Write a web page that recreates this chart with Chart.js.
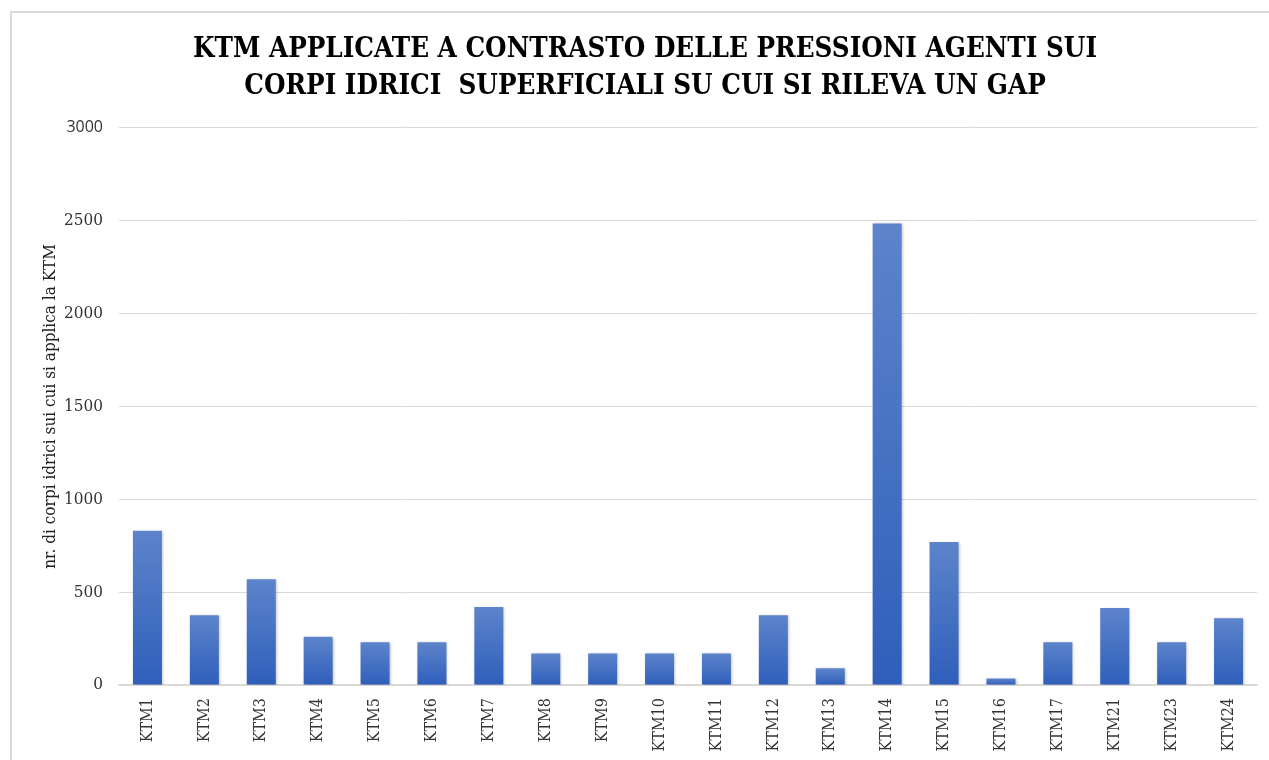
<!DOCTYPE html>
<html>
<head>
<meta charset="utf-8">
<title>KTM applicate</title>
<script src="https://cdn.jsdelivr.net/npm/chart.js@4.4.1/dist/chart.umd.min.js"></script>
<style>
    html, body { margin: 0; padding: 0; background: #fff; }
    #wrap { position: relative; width: 1269px; height: 760px; overflow: hidden; }
    #frame {
        position: absolute; left: 10px; top: 11px; width: 1300px; height: 800px;
        border: 2px solid #d9d9d9; box-sizing: border-box;
    }
    #bar { position: absolute; left: 0; top: 0; }
</style>
</head>
<body>
<div id="wrap">
    <div id="frame"></div>
    <canvas id="bar" width="1269" height="760"></canvas>
</div>
<script>
var categorie = ['KTM1', 'KTM2', 'KTM3', 'KTM4', 'KTM5', 'KTM6', 'KTM7', 'KTM8', 'KTM9', 'KTM10',
    'KTM11', 'KTM12', 'KTM13', 'KTM14', 'KTM15', 'KTM16', 'KTM17', 'KTM21', 'KTM23', 'KTM24'];
var nCorpi = [830, 375, 570, 260, 230, 230, 420, 170, 170, 170,
    170, 375, 90, 2485, 770, 35, 230, 415, 230, 360];
var yTicks = [0, 500, 1000, 1500, 2000, 2500, 3000];
var titolo = ['KTM APPLICATE A CONTRASTO DELLE PRESSIONI AGENTI SUI', 'CORPI IDRICI  SUPERFICIALI SU CUI SI RILEVA UN GAP'];
var titoloAsse = 'nr. di corpi idrici sui cui si applica la KTM';

var serif = '"DejaVu Serif Condensed", "DejaVu Serif", serif';

// gradiente per ogni barra: chiaro in alto, scuro in basso
function barColor(c) {
    var chart = c.chart;
    var y = chart.scales.y;
    if (!y || !chart.chartArea || c.parsed === undefined) {
        return '#4472c4';
    }
    var top = y.getPixelForValue(c.parsed.y);
    var base = y.getPixelForValue(0);
    if (!isFinite(top) || !isFinite(base) || base - top < 1) {
        return '#4472c4';
    }
    var g = chart.ctx.createLinearGradient(0, top, 0, base);
    g.addColorStop(0, '#5d84cb');
    g.addColorStop(1, '#2f5fbb');
    return g;
}

var shadowPlugin = {
    id: 'shadow',
    beforeDatasetsDraw: function (chart) {
        var ctx = chart.ctx;
        ctx.save();
        ctx.shadowColor = 'rgba(0,0,0,0.28)';
        ctx.shadowBlur = 3;
        ctx.shadowOffsetX = 1;
        ctx.shadowOffsetY = 1;
    },
    afterDatasetsDraw: function (chart) {
        chart.ctx.restore();
    }
};

var ctx = document.getElementById('bar');

var barGraph = new Chart(ctx, {
    type: 'bar',
    data: {
        labels: categorie,
        datasets: [{
            label: 'KTM',
            data: nCorpi,
            backgroundColor: barColor,
            borderWidth: 0,
            barPercentage: 0.51,
            categoryPercentage: 1
        }]
    },
    plugins: [shadowPlugin],
    options: {
        responsive: false,
        animation: false,
        layout: {
            padding: {left: 33, right: 12, top: 0, bottom: 0}
        },
        plugins: {
            legend: {display: false},
            tooltip: {enabled: false},
            title: {
                display: true,
                text: titolo,
                color: '#000',
                font: {family: serif, size: 27.5, weight: 'bold', lineHeight: 1.36},
                padding: {top: 31, bottom: 22}
            }
        },
        scales: {
            x: {
                afterFit: function (axis) {
                    axis.height = 75;
                },
                grid: {display: false, drawTicks: false},
                border: {display: true, color: '#d9d9d9', width: 1.5},
                ticks: {
                    color: '#333',
                    font: {family: serif, size: 16},
                    minRotation: 90,
                    maxRotation: 90,
                    autoSkip: false,
                    padding: 13
                }
            },
            y: {
                min: 0,
                max: 3000,
                afterBuildTicks: function (axis) {
                    axis.ticks = yTicks.map(function (v) { return {value: v}; });
                },
                afterFit: function (axis) {
                    axis.width = 86;
                },
                grid: {color: '#d9d9d9', lineWidth: 1, drawTicks: false},
                border: {display: false},
                ticks: {
                    color: '#333',
                    padding: 16,
                    callback: function (v) { return String(v); },
                    font: function (c) {
                        if (c.tick && c.tick.value === 3000) {
                            return {family: '"Open Sans", sans-serif', size: 16};
                        }
                        return {family: serif, size: 17};
                    }
                },
                title: {
                    display: true,
                    text: titoloAsse,
                    color: '#222',
                    font: {family: serif, size: 17},
                    padding: {top: 7, bottom: 0}
                }
            }
        }
    }
});
</script>
</body>
</html>
